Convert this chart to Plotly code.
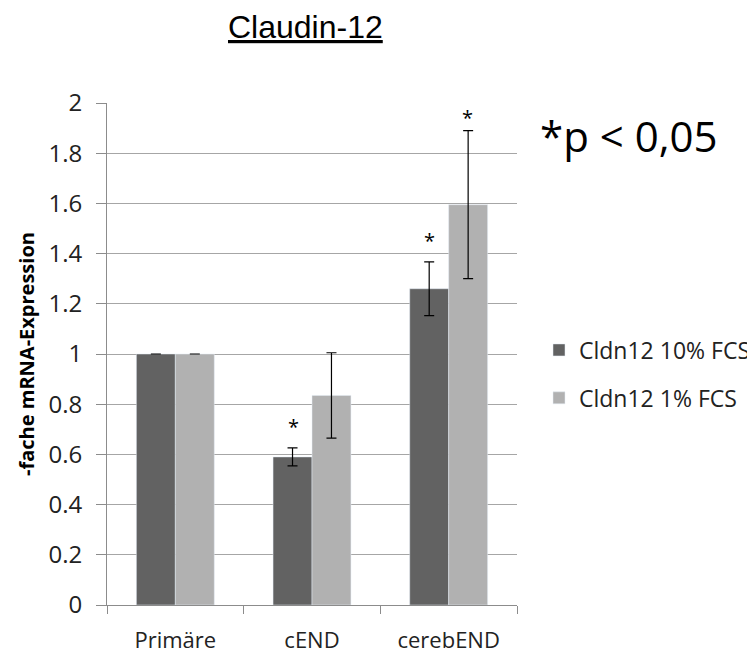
import plotly.graph_objects as go

categories = ["Primäre", "cEND", "cerebEND"]
series_names = ["Cldn12 10% FCS", "Cldn12 1% FCS"]
values_10 = [1.0, 0.59, 1.26]
errors_10 = [0.0, 0.036, 0.107]
values_1 = [1.0, 0.835, 1.595]
errors_1 = [0.0, 0.17, 0.295]
sig_10 = [False, True, True]
sig_1 = [False, False, True]
y_ticks = [0, 0.2, 0.4, 0.6, 0.8, 1, 1.2, 1.4, 1.6, 1.8, 2]

dark = "#626262"
light = "#b1b1b1"
font_body = "Open Sans, Calibri, Carlito, sans-serif"

# page body has an 8px margin; figure is sized so the plot lands where the reference has it
W, H = 747, 645
L, R, T, B = 99, 238, 95, 48
PW, PH = W - L - R, H - T - B

fig = go.Figure()
fig.add_trace(go.Bar(
    x=categories, y=values_10, name=series_names[0], marker_color=dark, legendgroup="a",
    error_y=dict(type="data", array=errors_10, color="black", thickness=1.2, width=5),
))
fig.add_trace(go.Bar(
    x=categories, y=values_1, name=series_names[1], marker_color=light, legendgroup="b",
    error_y=dict(type="data", array=errors_1, color="black", thickness=1.2, width=5),
))

annotations = []
for cat, v, e, s in zip(categories, values_10, errors_10, sig_10):
    if s:
        annotations.append(dict(x=cat, y=v + e, xref="x", yref="y", text="*",
                                showarrow=False, xshift=-19, yanchor="bottom", yshift=6,
                                font=dict(size=20, color="black", family=font_body)))
for cat, v, e, s in zip(categories, values_1, errors_1, sig_1):
    if s:
        annotations.append(dict(x=cat, y=v + e, xref="x", yref="y", text="*",
                                showarrow=False, xshift=19, yanchor="bottom", yshift=-2,
                                font=dict(size=20, color="black", family=font_body)))

annotations.append(dict(x=(297 - L) / PW, y=1, xref="paper", yref="paper",
                        text="<u>Claudin-12</u>", showarrow=False,
                        xanchor="center", yanchor="middle", yshift=T - 19,
                        font=dict(size=32, color="black", family="Liberation Sans, Arial")))
annotations.append(dict(x=(530 - L) / PW, y=(H - B - 127) / PH, xref="paper", yref="paper",
                        text="*p < 0,05", showarrow=False, xanchor="left", yanchor="middle",
                        font=dict(size=42, color="black", family=font_body)))

fig.update_layout(
    width=W, height=H,
    margin=dict(l=L, r=R, t=T, b=B, autoexpand=False),
    paper_bgcolor="white", plot_bgcolor="white",
    barmode="group", bargap=0.43, bargroupgap=0,
    showlegend=True,
    legend=dict(x=(531 - L) / PW, y=(H - B - 366) / PH, xanchor="left", yanchor="middle",
                font=dict(size=23, color="#222", family=font_body),
                itemwidth=30, traceorder="grouped", tracegroupgap=15,
                bgcolor="rgba(0,0,0,0)"),
    xaxis=dict(showline=True, linecolor="#8c8c8c", linewidth=1,
               ticks="outside", tickson="boundaries", ticklen=8, tickcolor="#8c8c8c",
               ticklabelstandoff=16,
               tickfont=dict(size=22, color="#222", family=font_body), showgrid=False),
    yaxis=dict(range=[0, 2], tickvals=y_ticks, ticktext=[f"{t:g}" for t in y_ticks],
               showline=True, linecolor="#8c8c8c", linewidth=1,
               ticks="outside", ticklen=10, tickcolor="#8c8c8c",
               ticklabelstandoff=9,
               gridcolor="#a6a6a6", gridwidth=1, zeroline=False,
               tickfont=dict(size=24, color="#222", family=font_body),
               title=dict(text="<b>-fache mRNA-Expression</b>", standoff=8,
                          font=dict(size=20, color="black", family=font_body))),
    annotations=annotations,
)

fig.write_html("out.html")
